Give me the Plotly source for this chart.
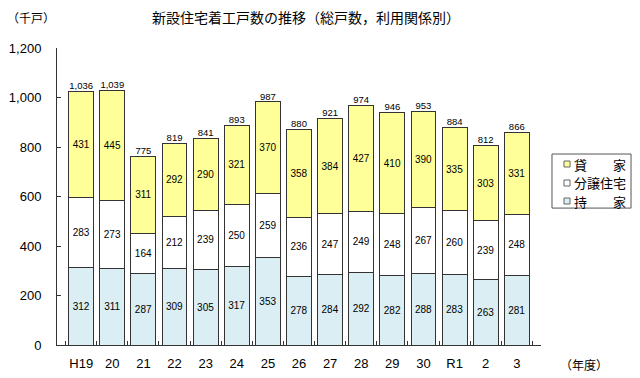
import plotly.graph_objects as go

years = ["H19", "20", "21", "22", "23", "24", "25", "26", "27", "28", "29", "30", "R1", "2", "3"]
owner = [312, 311, 287, 309, 305, 317, 353, 278, 284, 292, 282, 288, 283, 263, 281]
sale = [283, 273, 164, 212, 239, 250, 259, 236, 247, 249, 248, 267, 260, 239, 248]
rental = [431, 445, 311, 292, 290, 321, 370, 358, 384, 427, 410, 390, 335, 303, 331]
totals = [1036, 1039, 775, 819, 841, 893, 987, 880, 921, 974, 946, 953, 884, 812, 866]
yticks = [0, 200, 400, 600, 800, 1000, 1200]
ytick_labels = ["0", "200", "400", "600", "800", "1,000", "1,200"]

FONT = "Liberation Sans, Arial, Noto Sans CJK JP"
JP = "Noto Sans CJK JP"
LINE = "#333333"

series = [
    ("持　　家", owner, "#DAEEF3"),
    ("分譲住宅", sale, "#FFFFFF"),
    ("貸　　家", rental, "#FFFF99"),
]

fig = go.Figure()
for name, vals, color in series:
    fig.add_trace(go.Bar(
        x=years, y=vals, name=name, showlegend=False,
        marker=dict(color=color, line=dict(color=LINE, width=1)),
        text=[str(v) for v in vals], textposition="inside",
        insidetextanchor="middle", textangle=0, constraintext="none",
        textfont=dict(size=10, color="#000000", family=FONT),
        width=0.8,
    ))

stack_top = [a + b + c for a, b, c in zip(owner, sale, rental)]
fig.add_trace(go.Scatter(
    x=years, y=stack_top, mode="text",
    text=[f"{t:,}" for t in totals], textposition="top center",
    textfont=dict(size=9.5, color="#000000", family=FONT),
    showlegend=False, hoverinfo="skip",
))

# compact legend box (drawn as shapes/annotations, paper coords)
shapes = [dict(type="rect", xref="paper", yref="paper",
               x0=1.0227, x1=1.186, y0=0.461, y1=0.643,
               line=dict(color="#555555", width=1), fillcolor="white")]
annotations = []
row_y = [0.4848, 0.5455, 0.6094]  # bottom (持家) to top (貸家)
for (name, _, color), yy in zip(series, row_y):
    h = 3.0 / 297
    shapes.append(dict(type="rect", xref="paper", yref="paper",
                       x0=1.0475, x1=1.0600, y0=yy - h, y1=yy + h,
                       line=dict(color="#666666", width=1), fillcolor=color))
    annotations.append(dict(text=name, xref="paper", yref="paper", x=1.064, y=yy,
                            xanchor="left", yanchor="middle", showarrow=False,
                            font=dict(size=13, family=JP, color="#000000")))

annotations += [
    dict(text="新設住宅着工戸数の推移（総戸数，利用関係別）", xref="paper", yref="paper",
         x=0.5, y=1, yshift=31, xshift=7, yanchor="middle", showarrow=False,
         font=dict(size=14, family=JP, color="#000000")),
    dict(text="（千戸）", xref="paper", yref="paper", x=0, y=1, yshift=31, xshift=-52,
         xanchor="left", yanchor="middle", showarrow=False,
         font=dict(size=12, family=JP, color="#000000")),
    dict(text="（年度）", xref="paper", yref="paper", x=1, y=0, yshift=-19, xshift=17,
         xanchor="left", yanchor="middle", showarrow=False,
         font=dict(size=12, family=JP, color="#000000")),
]

# page body has an 8px margin, so the figure is sized/offset to compensate
fig.update_layout(
    width=632, height=370,
    margin=dict(l=49, r=99, t=40, b=33, autoexpand=False),
    paper_bgcolor="white", plot_bgcolor="white",
    barmode="stack", bargap=0.2,
    font=dict(family=FONT, size=13, color="#000000"),
    showlegend=False,
    xaxis=dict(
        type="category", showline=True, linecolor=LINE, linewidth=1,
        ticks="inside", tickson="boundaries", ticklen=4, tickcolor=LINE,
        showgrid=False, tickfont=dict(size=13), ticklabelstandoff=6,
        tickangle=0, automargin=False,
    ),
    yaxis=dict(
        range=[0, 1200], showline=True, linecolor=LINE, linewidth=1,
        ticks="inside", ticklen=4, tickcolor=LINE, showgrid=False,
        tickvals=yticks, ticktext=ytick_labels, tickfont=dict(size=13),
        ticklabelstandoff=12, zeroline=False, automargin=False,
    ),
    shapes=shapes,
    annotations=annotations,
)

fig.write_html("out.html")
